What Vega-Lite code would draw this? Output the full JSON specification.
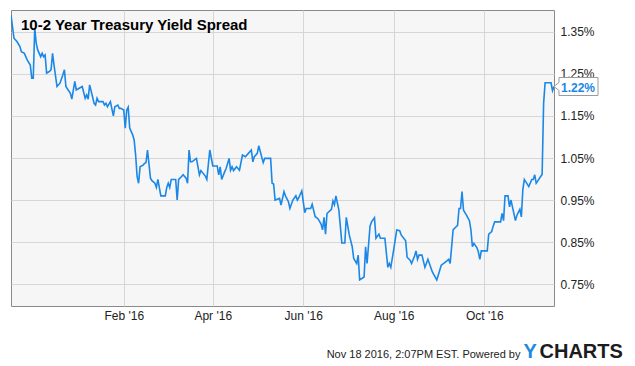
{
  "$schema": "https://vega.github.io/schema/vega-lite/v6.json",
  "width": 543,
  "height": 296,
  "autosize": {"type": "none"},
  "padding": {"left": 11, "top": 10, "right": 81, "bottom": 60},
  "background": "#ffffff",
  "config": {
    "view": {"fill": "#f6f6f6", "stroke": "#8a8a8a", "strokeWidth": 1},
    "font": "Liberation Sans"
  },
  "title": {
    "text": "10-2 Year Treasury Yield Spread",
    "anchor": "start",
    "frame": "group",
    "orient": "top",
    "offset": -20,
    "baseline": "alphabetic",
    "dx": 10,
    "dy": 15,
    "font": "Liberation Sans",
    "fontSize": 15,
    "fontWeight": "bold",
    "color": "#000000"
  },
  "data": {
    "values": [
      {"date": "2015-11-17", "value": 0.01390},
      {"date": "2015-11-19", "value": 0.01335},
      {"date": "2015-11-21", "value": 0.01327},
      {"date": "2015-11-23", "value": 0.01315},
      {"date": "2015-11-24", "value": 0.01303},
      {"date": "2015-11-26", "value": 0.01299},
      {"date": "2015-11-28", "value": 0.01283},
      {"date": "2015-11-30", "value": 0.01271},
      {"date": "2015-12-01", "value": 0.01240},
      {"date": "2015-12-02", "value": 0.01240},
      {"date": "2015-12-03", "value": 0.01359},
      {"date": "2015-12-04", "value": 0.01323},
      {"date": "2015-12-05", "value": 0.01307},
      {"date": "2015-12-07", "value": 0.01291},
      {"date": "2015-12-08", "value": 0.01299},
      {"date": "2015-12-09", "value": 0.01291},
      {"date": "2015-12-10", "value": 0.01295},
      {"date": "2015-12-11", "value": 0.01252},
      {"date": "2015-12-13", "value": 0.01256},
      {"date": "2015-12-14", "value": 0.01260},
      {"date": "2015-12-15", "value": 0.01299},
      {"date": "2015-12-16", "value": 0.01271},
      {"date": "2015-12-18", "value": 0.01220},
      {"date": "2015-12-20", "value": 0.01228},
      {"date": "2015-12-22", "value": 0.01248},
      {"date": "2015-12-23", "value": 0.01260},
      {"date": "2015-12-24", "value": 0.01220},
      {"date": "2015-12-27", "value": 0.01204},
      {"date": "2015-12-28", "value": 0.01190},
      {"date": "2015-12-30", "value": 0.01232},
      {"date": "2015-12-31", "value": 0.01212},
      {"date": "2016-01-02", "value": 0.01216},
      {"date": "2016-01-04", "value": 0.01220},
      {"date": "2016-01-06", "value": 0.01192},
      {"date": "2016-01-07", "value": 0.01200},
      {"date": "2016-01-08", "value": 0.01190},
      {"date": "2016-01-09", "value": 0.01224},
      {"date": "2016-01-11", "value": 0.01195},
      {"date": "2016-01-12", "value": 0.01180},
      {"date": "2016-01-13", "value": 0.01176},
      {"date": "2016-01-14", "value": 0.01192},
      {"date": "2016-01-15", "value": 0.01184},
      {"date": "2016-01-17", "value": 0.01184},
      {"date": "2016-01-18", "value": 0.01184},
      {"date": "2016-01-19", "value": 0.01176},
      {"date": "2016-01-20", "value": 0.01180},
      {"date": "2016-01-21", "value": 0.01172},
      {"date": "2016-01-23", "value": 0.01184},
      {"date": "2016-01-25", "value": 0.01150},
      {"date": "2016-01-26", "value": 0.01172},
      {"date": "2016-01-28", "value": 0.01176},
      {"date": "2016-01-29", "value": 0.01168},
      {"date": "2016-01-30", "value": 0.01168},
      {"date": "2016-02-01", "value": 0.01164},
      {"date": "2016-02-02", "value": 0.01121},
      {"date": "2016-02-03", "value": 0.01164},
      {"date": "2016-02-04", "value": 0.01171},
      {"date": "2016-02-05", "value": 0.01121},
      {"date": "2016-02-07", "value": 0.01105},
      {"date": "2016-02-08", "value": 0.01093},
      {"date": "2016-02-09", "value": 0.01057},
      {"date": "2016-02-10", "value": 0.01006},
      {"date": "2016-02-11", "value": 0.00990},
      {"date": "2016-02-12", "value": 0.01029},
      {"date": "2016-02-14", "value": 0.01033},
      {"date": "2016-02-15", "value": 0.01037},
      {"date": "2016-02-16", "value": 0.01039},
      {"date": "2016-02-17", "value": 0.01069},
      {"date": "2016-02-19", "value": 0.01002},
      {"date": "2016-02-20", "value": 0.00996},
      {"date": "2016-02-22", "value": 0.00990},
      {"date": "2016-02-23", "value": 0.00980},
      {"date": "2016-02-24", "value": 0.00999},
      {"date": "2016-02-26", "value": 0.00960},
      {"date": "2016-02-29", "value": 0.00960},
      {"date": "2016-03-01", "value": 0.00980},
      {"date": "2016-03-02", "value": 0.00990},
      {"date": "2016-03-03", "value": 0.00980},
      {"date": "2016-03-04", "value": 0.00999},
      {"date": "2016-03-07", "value": 0.00999},
      {"date": "2016-03-08", "value": 0.00950},
      {"date": "2016-03-09", "value": 0.00999},
      {"date": "2016-03-11", "value": 0.01006},
      {"date": "2016-03-12", "value": 0.01010},
      {"date": "2016-03-14", "value": 0.01002},
      {"date": "2016-03-15", "value": 0.00990},
      {"date": "2016-03-16", "value": 0.01069},
      {"date": "2016-03-17", "value": 0.01041},
      {"date": "2016-03-18", "value": 0.01041},
      {"date": "2016-03-21", "value": 0.01049},
      {"date": "2016-03-23", "value": 0.01010},
      {"date": "2016-03-24", "value": 0.01020},
      {"date": "2016-03-27", "value": 0.01007},
      {"date": "2016-03-28", "value": 0.00999},
      {"date": "2016-03-30", "value": 0.01069},
      {"date": "2016-04-01", "value": 0.01031},
      {"date": "2016-04-04", "value": 0.01031},
      {"date": "2016-04-05", "value": 0.01010},
      {"date": "2016-04-06", "value": 0.01029},
      {"date": "2016-04-07", "value": 0.00999},
      {"date": "2016-04-09", "value": 0.01017},
      {"date": "2016-04-10", "value": 0.01025},
      {"date": "2016-04-12", "value": 0.01049},
      {"date": "2016-04-13", "value": 0.01021},
      {"date": "2016-04-14", "value": 0.01029},
      {"date": "2016-04-15", "value": 0.01020},
      {"date": "2016-04-17", "value": 0.01029},
      {"date": "2016-04-19", "value": 0.01021},
      {"date": "2016-04-21", "value": 0.01057},
      {"date": "2016-04-23", "value": 0.01053},
      {"date": "2016-04-25", "value": 0.01061},
      {"date": "2016-04-27", "value": 0.01069},
      {"date": "2016-04-28", "value": 0.01041},
      {"date": "2016-04-29", "value": 0.01053},
      {"date": "2016-05-01", "value": 0.01061},
      {"date": "2016-05-02", "value": 0.01079},
      {"date": "2016-05-05", "value": 0.01039},
      {"date": "2016-05-06", "value": 0.01049},
      {"date": "2016-05-10", "value": 0.01049},
      {"date": "2016-05-11", "value": 0.00990},
      {"date": "2016-05-12", "value": 0.00988},
      {"date": "2016-05-13", "value": 0.00950},
      {"date": "2016-05-16", "value": 0.00954},
      {"date": "2016-05-17", "value": 0.00938},
      {"date": "2016-05-19", "value": 0.00970},
      {"date": "2016-05-20", "value": 0.00960},
      {"date": "2016-05-22", "value": 0.00946},
      {"date": "2016-05-23", "value": 0.00930},
      {"date": "2016-05-25", "value": 0.00950},
      {"date": "2016-05-27", "value": 0.00960},
      {"date": "2016-05-28", "value": 0.00950},
      {"date": "2016-05-29", "value": 0.00956},
      {"date": "2016-05-31", "value": 0.00972},
      {"date": "2016-06-02", "value": 0.00920},
      {"date": "2016-06-03", "value": 0.00930},
      {"date": "2016-06-06", "value": 0.00930},
      {"date": "2016-06-07", "value": 0.00940},
      {"date": "2016-06-09", "value": 0.00911},
      {"date": "2016-06-11", "value": 0.00905},
      {"date": "2016-06-13", "value": 0.00893},
      {"date": "2016-06-14", "value": 0.00879},
      {"date": "2016-06-15", "value": 0.00909},
      {"date": "2016-06-16", "value": 0.00869},
      {"date": "2016-06-17", "value": 0.00918},
      {"date": "2016-06-20", "value": 0.00928},
      {"date": "2016-06-21", "value": 0.00948},
      {"date": "2016-06-22", "value": 0.00939},
      {"date": "2016-06-23", "value": 0.00960},
      {"date": "2016-06-25", "value": 0.00926},
      {"date": "2016-06-27", "value": 0.00848},
      {"date": "2016-06-29", "value": 0.00848},
      {"date": "2016-06-30", "value": 0.00909},
      {"date": "2016-07-02", "value": 0.00867},
      {"date": "2016-07-04", "value": 0.00839},
      {"date": "2016-07-05", "value": 0.00811},
      {"date": "2016-07-07", "value": 0.00799},
      {"date": "2016-07-08", "value": 0.00819},
      {"date": "2016-07-09", "value": 0.00760},
      {"date": "2016-07-12", "value": 0.00767},
      {"date": "2016-07-13", "value": 0.00839},
      {"date": "2016-07-14", "value": 0.00799},
      {"date": "2016-07-16", "value": 0.00888},
      {"date": "2016-07-17", "value": 0.00898},
      {"date": "2016-07-19", "value": 0.00908},
      {"date": "2016-07-20", "value": 0.00859},
      {"date": "2016-07-22", "value": 0.00869},
      {"date": "2016-07-23", "value": 0.00859},
      {"date": "2016-07-26", "value": 0.00859},
      {"date": "2016-07-28", "value": 0.00790},
      {"date": "2016-07-29", "value": 0.00799},
      {"date": "2016-07-30", "value": 0.00790},
      {"date": "2016-08-01", "value": 0.00833},
      {"date": "2016-08-03", "value": 0.00879},
      {"date": "2016-08-05", "value": 0.00877},
      {"date": "2016-08-06", "value": 0.00867},
      {"date": "2016-08-09", "value": 0.00853},
      {"date": "2016-08-10", "value": 0.00814},
      {"date": "2016-08-12", "value": 0.00807},
      {"date": "2016-08-13", "value": 0.00799},
      {"date": "2016-08-15", "value": 0.00817},
      {"date": "2016-08-16", "value": 0.00829},
      {"date": "2016-08-17", "value": 0.00809},
      {"date": "2016-08-18", "value": 0.00819},
      {"date": "2016-08-20", "value": 0.00819},
      {"date": "2016-08-22", "value": 0.00790},
      {"date": "2016-08-24", "value": 0.00809},
      {"date": "2016-08-25", "value": 0.00799},
      {"date": "2016-08-27", "value": 0.00779},
      {"date": "2016-08-30", "value": 0.00760},
      {"date": "2016-09-02", "value": 0.00795},
      {"date": "2016-09-05", "value": 0.00803},
      {"date": "2016-09-07", "value": 0.00809},
      {"date": "2016-09-08", "value": 0.00799},
      {"date": "2016-09-10", "value": 0.00879},
      {"date": "2016-09-11", "value": 0.00883},
      {"date": "2016-09-13", "value": 0.00890},
      {"date": "2016-09-14", "value": 0.00930},
      {"date": "2016-09-15", "value": 0.00930},
      {"date": "2016-09-16", "value": 0.00970},
      {"date": "2016-09-17", "value": 0.00926},
      {"date": "2016-09-19", "value": 0.00914},
      {"date": "2016-09-21", "value": 0.00901},
      {"date": "2016-09-22", "value": 0.00879},
      {"date": "2016-09-23", "value": 0.00839},
      {"date": "2016-09-24", "value": 0.00847},
      {"date": "2016-09-26", "value": 0.00837},
      {"date": "2016-09-27", "value": 0.00827},
      {"date": "2016-09-28", "value": 0.00809},
      {"date": "2016-09-29", "value": 0.00829},
      {"date": "2016-10-03", "value": 0.00829},
      {"date": "2016-10-04", "value": 0.00869},
      {"date": "2016-10-06", "value": 0.00875},
      {"date": "2016-10-07", "value": 0.00888},
      {"date": "2016-10-08", "value": 0.00898},
      {"date": "2016-10-12", "value": 0.00898},
      {"date": "2016-10-13", "value": 0.00918},
      {"date": "2016-10-14", "value": 0.00901},
      {"date": "2016-10-15", "value": 0.00960},
      {"date": "2016-10-17", "value": 0.00960},
      {"date": "2016-10-18", "value": 0.00934},
      {"date": "2016-10-19", "value": 0.00950},
      {"date": "2016-10-22", "value": 0.00901},
      {"date": "2016-10-23", "value": 0.00914},
      {"date": "2016-10-25", "value": 0.00928},
      {"date": "2016-10-26", "value": 0.00910},
      {"date": "2016-10-27", "value": 0.00975},
      {"date": "2016-10-28", "value": 0.00999},
      {"date": "2016-10-31", "value": 0.00982},
      {"date": "2016-11-02", "value": 0.00999},
      {"date": "2016-11-03", "value": 0.00999},
      {"date": "2016-11-04", "value": 0.01010},
      {"date": "2016-11-05", "value": 0.00990},
      {"date": "2016-11-06", "value": 0.00995},
      {"date": "2016-11-08", "value": 0.01006},
      {"date": "2016-11-09", "value": 0.01011},
      {"date": "2016-11-10", "value": 0.01180},
      {"date": "2016-11-11", "value": 0.01229},
      {"date": "2016-11-15", "value": 0.01229},
      {"date": "2016-11-16", "value": 0.01210},
      {"date": "2016-11-17", "value": 0.01220}
    ]
  },
  "layer": [
    {
      "mark": {"type": "line", "color": "#1b87e6", "strokeWidth": 1.6, "clip": true},
      "encoding": {
        "x": {
          "field": "date",
          "type": "temporal",
          "scale": {
            "type": "utc",
            "domain": [
              {"year": 2015, "month": 11, "date": 17, "utc": true},
              {"year": 2016, "month": 11, "date": 17, "utc": true}
            ]
          },
          "axis": {
            "orient": "bottom",
            "values": [
              {"year": 2016, "month": 2, "date": 1, "utc": true},
              {"year": 2016, "month": 4, "date": 1, "utc": true},
              {"year": 2016, "month": 6, "date": 1, "utc": true},
              {"year": 2016, "month": 8, "date": 1, "utc": true},
              {"year": 2016, "month": 10, "date": 1, "utc": true}
            ],
            "format": "%b '%y",
            "labelFont": "Liberation Sans",
            "labelFontSize": 12,
            "labelColor": "#222222",
            "labelPadding": 4,
            "ticks": false,
            "domain": false,
            "grid": true,
            "gridColor": "#d6d6d6",
            "gridWidth": 1,
            "title": "Nov 18 2016, 2:07PM EST.  Powered by",
            "titleFont": "Liberation Sans",
            "titleFontSize": 11,
            "titleFontWeight": "normal",
            "titleColor": "#222222",
            "titleAlign": "right",
            "titleBaseline": "alphabetic",
            "titleX": 509,
            "titleY": 51
          }
        },
        "y": {
          "field": "value",
          "type": "quantitative",
          "scale": {"domain": [0.00698, 0.01402], "nice": false, "zero": false},
          "axis": {
            "orient": "right",
            "values": [0.0075, 0.0085, 0.0095, 0.0105, 0.0115, 0.0125, 0.0135],
            "format": ".2%",
            "labelFont": "Liberation Sans",
            "labelFontSize": 12,
            "labelColor": "#222222",
            "labelPadding": 6,
            "ticks": false,
            "domain": false,
            "grid": true,
            "gridColor": "#d6d6d6",
            "gridWidth": 1,
            "title": "CHARTS",
            "titleFont": "Liberation Sans",
            "titleFontSize": 20,
            "titleFontWeight": "bold",
            "titleColor": "#1c1c1c",
            "titleAngle": 0,
            "titleAlign": "left",
            "titleBaseline": "alphabetic",
            "titleX": -15,
            "titleY": 347
          }
        }
      }
    },
    {
      "transform": [
        {"window": [{"op": "row_number", "as": "r"}], "sort": [{"field": "date", "order": "descending"}]},
        {"filter": "datum.r == 1"}
      ],
      "mark": {
        "type": "point",
        "shape": "M0,0L0.227,-0.182L0.227,-0.409L2,-0.409L2,0.409L0.227,0.409L0.227,0.182Z",
        "size": 1936,
        "filled": true,
        "fill": "#ffffff",
        "stroke": "#9a9a9a",
        "strokeWidth": 1,
        "opacity": 1
      },
      "encoding": {
        "x": {"field": "date", "type": "temporal", "axis": null},
        "y": {
          "field": "value",
          "type": "quantitative",
          "axis": {
            "orient": "left",
            "labels": false,
            "ticks": false,
            "domain": false,
            "grid": false,
            "title": "Y",
            "titleFont": "Liberation Sans",
            "titleFontSize": 20,
            "titleFontWeight": "bold",
            "titleColor": "#1b8be0",
            "titleAngle": 0,
            "titleAlign": "left",
            "titleBaseline": "alphabetic",
            "titleX": 512,
            "titleY": 347
          }
        }
      }
    },
    {
      "transform": [
        {"window": [{"op": "row_number", "as": "r"}], "sort": [{"field": "date", "order": "descending"}]},
        {"filter": "datum.r == 1"}
      ],
      "mark": {
        "type": "text",
        "dx": 24,
        "dy": 1,
        "align": "center",
        "baseline": "middle",
        "font": "Liberation Sans",
        "fontSize": 12,
        "fontWeight": "bold",
        "color": "#1b87e6"
      },
      "encoding": {
        "x": {"field": "date", "type": "temporal", "axis": null},
        "y": {"field": "value", "type": "quantitative", "axis": null},
        "text": {"field": "value", "type": "quantitative", "format": ".2%"}
      }
    }
  ],
  "resolve": {"axis": {"x": "independent", "y": "independent"}}
}
